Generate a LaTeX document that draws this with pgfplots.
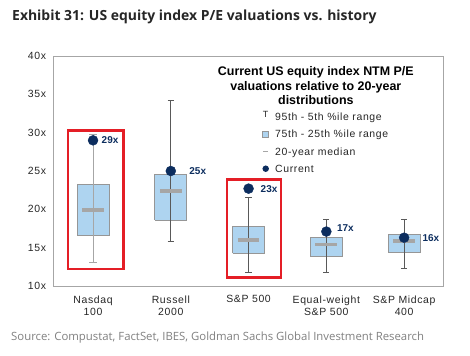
\documentclass[border=0pt]{standalone}
\usepackage{fontspec}
\setmainfont{Liberation Sans}
\newfontfamily\hfont{Open Sans}
\newfontfamily\lsf{Liberation Sans}[LetterSpace=6]
\usepackage{pgfplots}
\pgfplotsset{compat=1.18}
\definecolor{boxblue}{RGB}{174,212,240}
\definecolor{boxgray}{RGB}{150,150,150}
\definecolor{medgray}{RGB}{166,166,166}
\definecolor{whdark}{RGB}{89,89,89}
\definecolor{navy}{RGB}{12,45,94}
\definecolor{gsred}{RGB}{228,30,38}
\definecolor{txt}{RGB}{38,38,38}
\definecolor{srcgray}{RGB}{128,128,128}
\newcommand\lf{\lsf\fontsize{10.5}{12}\selectfont}
\pgfplotsset{
  bx/.style={fill=boxblue, draw=boxgray, line width=0.8pt, forget plot, mark=none},
  wh/.style={whdark, line width=0.8pt, forget plot, mark=none},
  whl/.style={medgray, line width=0.8pt, forget plot, mark=none},
  md/.style={medgray, line width=3.5pt, forget plot, mark=none},
  cur/.style={only marks, mark=*, mark size=5pt, mark options={fill=navy, draw=navy}, forget plot,
    nodes near coords, every node near coord/.append style={anchor=west, inner sep=0pt, font=\bfseries\fontsize{10}{12}\selectfont, text=navy}},
}
\begin{document}
\begin{tikzpicture}
\path[use as bounding box] (-53bp,-70bp) rectangle (417bp,286bp);
\node[anchor=base west, inner sep=0pt, font=\hfont\bfseries\fontsize{14}{16}\selectfont, text=txt] at (-41bp,265bp) {Exhibit 31: US equity index P/E valuations vs. history};
\node[anchor=base west, inner sep=0pt, font=\hfont\fontsize{11.4}{13}\selectfont, text=srcgray] at (-42bp,-54bp) {Source: Compustat, FactSet, IBES, Goldman Sachs Global Investment Research};
\begin{axis}[
  at={(0,0)}, anchor=south west,
  scale only axis, width=390bp, height=230bp,
  xmin=-0.515, xmax=4.5, ymin=10, ymax=40,
  ytick={10,15,20,25,30,35,40},
  yticklabels={10x,15x,20x,25x,30x,35x,40x},
  xtick={0,1,2,3,4},
  xticklabels={{Nasdaq\\100},{Russell\\2000},{S\&P 500},{Equal-weight\\S\&P 500},{S\&P Midcap\\400}},
  xticklabel style={align=center, font=\lsf\fontsize{10.5}{12.5}\selectfont, text=txt, yshift=-6pt},
  yticklabel style={font=\lsf\fontsize{10.5}{12}\selectfont, text=txt, xshift=-3.5pt},
  major tick length=0pt,
  axis line style={draw=medgray, line width=0.8pt},
  clip=false,
]

% Nasdaq 100
\addplot[bx] coordinates {(-0.205,16.6) (0.205,16.6) (0.205,23.3) (-0.205,23.3) (-0.205,16.6)};
\addplot[whl] coordinates {(0,13.1) (0,29.8)};
\addplot[whl] coordinates {(-0.05,13.1) (0.05,13.1)};
\addplot[whl] coordinates {(-0.05,29.8) (0.05,29.8)};
\addplot[md] coordinates {(-0.14,19.9) (0.14,19.9)};
\addplot[cur, nodes near coords={29x}, every node near coord/.append style={xshift=8.5pt}] coordinates {(0,29.0)};

% Russell 2000
\addplot[bx] coordinates {(0.795,18.6) (1.205,18.6) (1.205,24.6) (0.795,24.6) (0.795,18.6)};
\addplot[wh] coordinates {(1,15.8) (1,34.2)};
\addplot[wh] coordinates {(0.96,15.8) (1.04,15.8)};
\addplot[wh] coordinates {(0.96,34.2) (1.04,34.2)};
\addplot[md] coordinates {(0.86,22.4) (1.14,22.4)};
\addplot[cur, nodes near coords={25x}, every node near coord/.append style={xshift=18.5pt}] coordinates {(1,25.0)};

% S&P 500
\addplot[bx] coordinates {(1.795,14.3) (2.205,14.3) (2.205,17.8) (1.795,17.8) (1.795,14.3)};
\addplot[wh] coordinates {(2,11.8) (2,21.6)};
\addplot[wh] coordinates {(1.96,11.8) (2.04,11.8)};
\addplot[wh] coordinates {(1.96,21.6) (2.04,21.6)};
\addplot[md] coordinates {(1.86,16.0) (2.14,16.0)};
\addplot[cur, nodes near coords={23x}, every node near coord/.append style={xshift=12pt}] coordinates {(2,22.7)};

% Equal-weight S&P 500
\addplot[bx] coordinates {(2.795,13.9) (3.205,13.9) (3.205,16.3) (2.795,16.3) (2.795,13.9)};
\addplot[wh] coordinates {(3,11.8) (3,18.7)};
\addplot[wh] coordinates {(2.96,11.8) (3.04,11.8)};
\addplot[wh] coordinates {(2.96,18.7) (3.04,18.7)};
\addplot[md] coordinates {(2.86,15.4) (3.14,15.4)};
\addplot[cur, nodes near coords={17x}, every node near coord/.append style={xshift=10.5pt, yshift=3.5pt}] coordinates {(3,17.1)};

% S&P Midcap 400
\addplot[bx] coordinates {(3.795,14.4) (4.205,14.4) (4.205,16.7) (3.795,16.7) (3.795,14.4)};
\addplot[wh] coordinates {(4,12.3) (4,18.7)};
\addplot[wh] coordinates {(3.96,12.3) (4.04,12.3)};
\addplot[wh] coordinates {(3.96,18.7) (4.04,18.7)};
\addplot[md] coordinates {(3.86,15.9) (4.14,15.9)};
\addplot[cur, nodes near coords={16x}, every node near coord/.append style={xshift=18.3pt}] coordinates {(4,16.3)};

% highlight rectangles
\draw[gsred, line width=2.4pt] (axis cs:-0.326,12.2) rectangle (axis cs:0.39,30.3);
\draw[gsred, line width=2.4pt] (axis cs:1.72,11.1) rectangle (axis cs:2.42,23.9);

% legend title
\node[align=center, inner sep=0pt, anchor=north, font=\bfseries\fontsize{12.5}{14.5}\selectfont, text=black] at (rel axis cs:0.674,0.955)
  {Current US equity index NTM P/E\\valuations relative to 20-year\\distributions};
% legend keys
\node[inner sep=0pt, font=\fontsize{9}{9}\selectfont, text=txt] at (rel axis cs:0.5454,0.745) {T};
\node[draw=boxgray, fill=boxblue, line width=0.5pt, inner sep=0pt, minimum size=6pt] at (rel axis cs:0.5454,0.661) {};
\node[fill=medgray, inner sep=0pt, minimum width=5pt, minimum height=1pt] at (rel axis cs:0.5454,0.586) {};
\node[circle, fill=navy, inner sep=0pt, minimum size=6.5pt] at (rel axis cs:0.5454,0.510) {};
\node[anchor=base west, inner sep=0pt, font=\lf, text=txt] at (rel axis cs:0.5692,0.7196) {95th - 5th \%ile range};
\node[anchor=base west, inner sep=0pt, font=\lf, text=txt] at (rel axis cs:0.5692,0.6444) {75th - 25th \%ile range};
\node[anchor=base west, inner sep=0pt, font=\lf, text=txt] at (rel axis cs:0.5692,0.5692) {20-year median};
\node[anchor=base west, inner sep=0pt, font=\lf, text=txt] at (rel axis cs:0.5692,0.4935) {Current};
\end{axis}
\end{tikzpicture}
\end{document}
